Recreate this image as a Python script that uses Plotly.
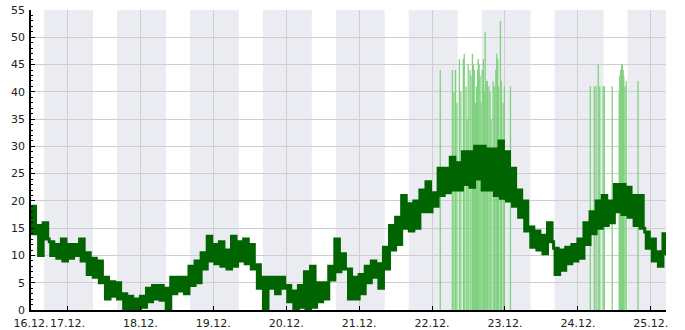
import plotly.graph_objects as go

# time axis in hours since 16.12. 00:00
x_start = 12
x_end = 221
tick_hours = [12, 24, 48, 72, 96, 120, 144, 168, 192, 216]
tick_labels = ["16.12.", "17.12.", "18.12.", "19.12.", "20.12.", "21.12.",
               "22.12.", "23.12.", "24.12.", "25.12."]

# night shading (sunset / sunrise hour)
sunset_h = 16.33
sunrise_h = 8.42

# mean values: 2-hour slots, slot start hour, low and high reading
slot_start = list(range(12, 222, 2))
slot_low = [14, 10, 13, 10, 9.5, 9, 9.5, 10, 9, 6.5, 6, 5, 2, 2.5, 2, 0, 0, 0, 0.5, 1.5,
            2, 1.8, 0, 3, 3.5, 3, 4.5, 5, 7.5, 9, 8.5, 8, 7.5, 8, 9, 8.5, 7.5, 4, 0, 4,
            3, 4, 1.5, 0, 0.5, 0, 0.5, 1.5, 2, 5.5, 7, 7.5, 2, 2, 3, 5, 6, 4, 7.5, 11,
            12, 15, 14.5, 15, 18, 18, 19, 21, 21.5, 22, 22, 23, 22.5, 24, 22, 22, 21, 20.5, 20, 19,
            17, 14.5, 11.5, 11, 10.3, 12.5, 6.5, 7.3, 8.5, 9, 9.5, 12, 14, 15, 15.5, 16, 18, 17.5, 17, 15.5,
            15, 11.3, 9, 8, 10.3]
slot_high = [19, 15.5, 16, 12.5, 12, 13, 12, 12, 13, 10.5, 9.5, 9, 6, 5.2, 5, 3, 2.5, 2, 2.5, 4,
             4.5, 4.5, 4, 6, 6, 6, 8, 9, 10.5, 13.5, 12, 12.5, 11, 13.5, 12.5, 13, 12, 8.3, 6, 6,
             6, 6, 4.5, 3.5, 4.5, 7, 8, 5, 5, 8, 13, 10.3, 7.5, 6, 6.5, 8, 9, 8.5, 11.5, 15.5,
             17, 21, 19.5, 20, 22, 23.5, 21.5, 26, 26, 28, 27, 29, 29, 30, 30, 29.5, 29.5, 31, 29, 26,
             22, 20, 15.2, 14.5, 13.7, 16, 11.3, 11, 11.5, 12, 13, 16, 18, 20, 21, 20, 23, 23, 22.5, 21,
             21, 14.3, 13, 10.7, 14]

# gust readings (hour, value)
gust_hours = [146.7, 150.7, 151.2, 151.7, 152.2, 153.0, 153.5, 154.3, 154.6, 155.2, 155.5,
              155.9, 156.5, 156.8, 157.3, 157.6, 157.9, 158.3, 158.6, 159.0, 159.2, 159.5,
              159.8, 160.1, 160.5, 160.9, 161.2, 161.5, 161.8, 162.2, 162.7, 163.1, 163.4,
              164.1, 164.5, 165.0, 165.3, 165.6, 165.9, 166.5, 166.8, 167.4, 167.8, 169.8,
              196.1, 197.4, 198.0, 198.7, 199.2, 200.3, 200.7, 203.3, 205.6, 205.8, 206.1,
              206.4, 206.6, 206.9, 207.1, 207.5, 207.9, 211.8]
gust_values = [44, 44, 40, 44, 38, 46, 40, 46, 47, 41, 35,
               45, 44, 43, 47, 45, 44, 38, 41, 44, 46, 45,
               43, 38, 44, 46, 40, 51, 42, 42, 41, 40, 35,
               42, 41, 44, 47, 46, 41, 53, 42, 38, 41, 41,
               41, 41, 41, 45, 41, 41, 41, 41, 40, 43, 44,
               45, 45, 44, 43, 41, 42, 42]

# build traces
mx, my = [], []
for s, lo, hi in zip(slot_start, slot_low, slot_high):
    mx += [s, s + 0.5, s + 1, s + 1.5]
    my += [hi, lo, hi, lo]

gx, gy = [], []
for h, v in zip(gust_hours, gust_values):
    gx += [h, h, None]
    gy += [0, v, None]

fig = go.Figure()
fig.add_trace(go.Scatter(x=gx, y=gy, mode="lines",
                         line=dict(color="#7fd17f", width=1.3), hoverinfo="skip"))
fig.add_trace(go.Scatter(x=mx, y=my, mode="lines", line_shape="hv",
                         line=dict(color="#006400", width=3)))

shapes = []
for d in range(9):
    a = sunset_h + 24 * d
    b = min(sunrise_h + 24 * (d + 1), x_end)
    if a >= x_end:
        break
    shapes.append(dict(type="rect", xref="x", yref="paper", x0=a, x1=b, y0=0, y1=1,
                       fillcolor="#ebecf1", line=dict(width=0), layer="below"))

fig.update_layout(
    width=685, height=330,
    margin=dict(l=31, r=19, t=10, b=20),
    paper_bgcolor="white", plot_bgcolor="white",
    showlegend=False, shapes=shapes,
    font=dict(family="DejaVu Sans", size=11, color="#222"),
)
fig.update_xaxes(range=[x_start, x_end], tickvals=tick_hours, ticktext=tick_labels,
                 tickangle=0, automargin=False, ticklabelstandoff=2,
                 showgrid=True, gridcolor="#cdcdd2", gridwidth=1,
                 showline=True, linecolor="black", linewidth=1.5,
                 ticks="inside", ticklen=4, tickcolor="black", zeroline=False)
fig.update_yaxes(range=[0, 55], dtick=5, showgrid=True, gridcolor="#cdcdd2", gridwidth=1,
                 automargin=False, ticklabelstandoff=2,
                 showline=True, linecolor="black", linewidth=1.5,
                 ticks="inside", ticklen=4, tickcolor="black", zeroline=False,
                 minor=dict(dtick=1, ticks="inside", ticklen=2.5, tickcolor="black", showgrid=False))

fig.write_html("out.html")
